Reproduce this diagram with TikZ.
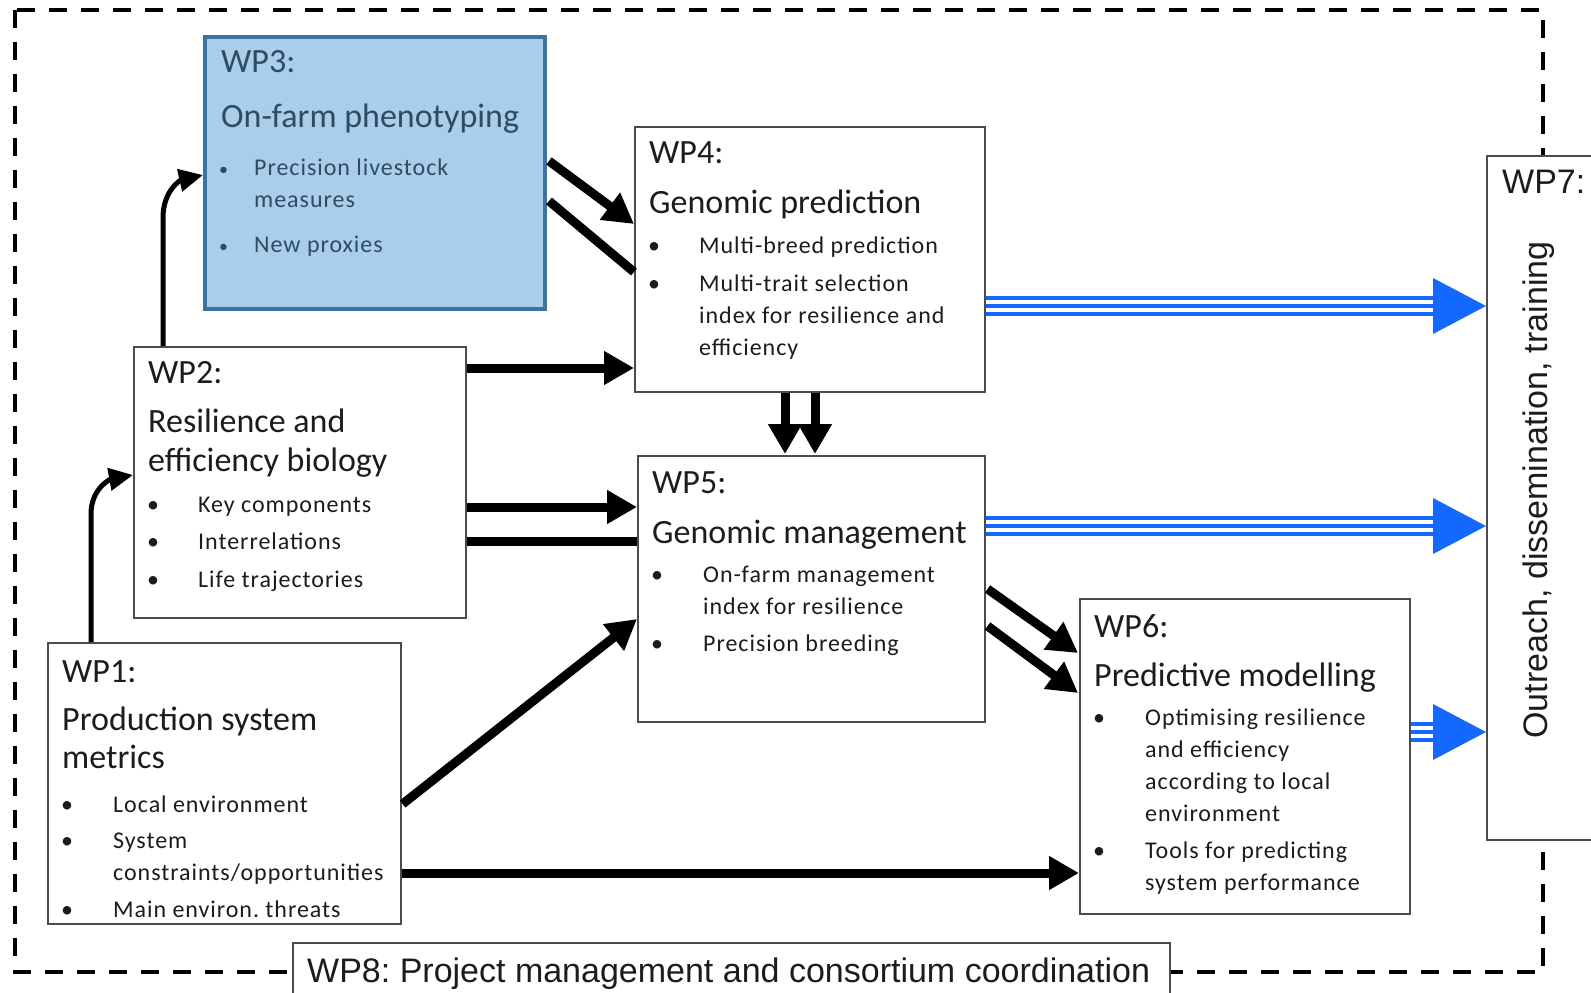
\documentclass[tikz,border=0pt]{standalone}
\usepackage{fontspec}
\setmainfont{Carlito}
\newfontfamily\arialfont{Liberation Sans}
\newfontfamily\itemfont[LetterSpace=4]{Carlito}
\usetikzlibrary{arrows.meta,calc}
\frenchspacing

\definecolor{boxline}{RGB}{75,75,75}
\definecolor{txt}{RGB}{28,28,28}
\definecolor{wpblue}{RGB}{169,206,236}
\definecolor{wpblueline}{RGB}{62,114,158}
\definecolor{wpbluetxt}{RGB}{48,74,98}
\definecolor{flow}{RGB}{18,104,255}

% heading line: #1 = distance from previous baseline, #2 = text
\newcommand\wphead[2]{{\fontsize{34}{#1}\selectfont #2\par}}
% bullet marker (redefined locally where needed)
\newcommand\wpbullet{\hspace{-1pt}\textbullet}
% bullet item: #1 = extra space before, #2 = text indent, #3 = text
\newcommand\wpitem[3]{\vspace{#1}{\itemfont\fontsize{24}{32}\selectfont
  \hangindent=#2\hangafter=1\noindent\makebox[#2][l]{\wpbullet}#3\par}}
\newcommand\wplines[1]{\vtop{\hsize=420pt\parindent=0pt\parskip=0pt
  \lineskiplimit=-100pt\lineskip=0pt #1}}

\begin{document}
\begin{tikzpicture}[x=1pt,y=-1pt,
  wpbox/.style={draw=boxline, line width=1.6pt, fill=white, inner sep=0pt, anchor=north west},
  flowarrow/.style={line width=9pt, -{Triangle[length=30pt,width=32pt]}},
  flowline/.style={line width=9pt},
  bendarrow/.style={line width=5pt, -{Triangle[length=24pt,width=22pt]}},
  frameline/.style={line width=4pt, dash pattern=on 18pt off 14pt},
  flowshaft/.style={draw=flow, line width=20pt,
    postaction={draw=white, line width=12pt},
    postaction={draw=flow, line width=4pt}},
  boxtext/.style={anchor=base west, inner sep=0pt, text=txt},
  armial/.style={inner sep=0pt, text=txt, font=\arialfont\fontsize{34}{34}\selectfont}]

\useasboundingbox (0,0) rectangle (1591,993);
\fill[white] (0,0) rectangle (1591,993);

% dashed project frame
\draw[frameline] (15,10) rectangle (1543,972);

% work-package boxes
\node[wpbox, draw=wpblueline, fill=wpblue, line width=4pt,
      minimum width=340pt, minimum height=272pt] (wp3) at (203,35) {};
\node[wpbox, minimum width=350pt, minimum height=265pt] (wp4) at (634,126) {};
\node[wpbox, minimum width=332pt, minimum height=271pt] (wp2) at (133,346) {};
\node[wpbox, minimum width=347pt, minimum height=266pt] (wp5) at (637,455) {};
\node[wpbox, minimum width=353pt, minimum height=281pt] (wp1) at (47,642) {};
\node[wpbox, minimum width=330pt, minimum height=315pt] (wp6) at (1079,598) {};
\node[wpbox, minimum width=220pt, minimum height=684pt] (wp7) at (1486,155) {};
\node[wpbox, minimum width=877pt, minimum height=90pt] (wp8) at (292,942) {};

% links between work packages
\draw[bendarrow] ($(wp1.north west)+(44,0)$) -- ++(0,-128)
  .. controls +(0,-26) and +(-22,4) .. ($(wp2.north west)+(0,129)$);
\draw[bendarrow] ($(wp2.north west)+(30,0)$) -- ++(0,-128)
  .. controls +(0,-28) and +(-22,5) .. ($(wp3.north west)+(0,140)$);

\draw[flowarrow] ($(wp3.north east)+(2,126)$) -- ($(wp4.north west)+(0,98)$);
\draw[flowline]  ($(wp3.north east)+(2,166)$) -- ($(wp4.north west)+(0,146)$);
\draw[flowarrow] ($(wp2.north east)+(0,22)$) -- ($(wp4.north west)+(0,242)$);

\draw[flowarrow] ($(wp4.south west)+(151,0)$) -- ($(wp5.north west)+(148,-1)$);
\draw[flowarrow] ($(wp4.south west)+(181,0)$) -- ($(wp5.north west)+(178,-1)$);

\draw[flowarrow] ($(wp2.north east)+(0,161)$) -- ($(wp5.north west)+(0,52)$);
\draw[flowline]  ($(wp2.north east)+(0,195)$) -- ($(wp5.north west)+(0,86)$);

\draw[flowarrow] ($(wp1.north east)+(1,162)$) -- ($(wp5.north west)+(0,164)$);
\draw[flowarrow] ($(wp1.north east)+(0,231)$) -- ($(wp6.north west)+(0,275)$);

\draw[flowarrow] ($(wp5.north east)+(2,134)$) -- ($(wp6.north west)+(-1,55)$);
\draw[flowarrow] ($(wp5.north east)+(2,171)$) -- ($(wp6.north west)+(-1,95)$);

% outputs into outreach
\draw[flowshaft] ($(wp4.north east)+(0,180)$) -- ($(wp7.north west)+(-48,151)$);
\fill[flow] ($(wp7.north west)+(0,151)$) -- ++(-53,-28) -- ++(0,56) -- cycle;
\draw[flowshaft] ($(wp5.north east)+(0,71)$) -- ($(wp7.north west)+(-48,371)$);
\fill[flow] ($(wp7.north west)+(0,371)$) -- ++(-53,-28) -- ++(0,56) -- cycle;
\draw[flowshaft] ($(wp6.north east)+(0,134)$) -- ($(wp7.north west)+(-48,577)$);
\fill[flow] ($(wp7.north west)+(0,577)$) -- ++(-53,-28) -- ++(0,56) -- cycle;

% box contents
\node[boxtext, text=wpbluetxt] (wp3text) at (221,72) {\wplines{%
  \renewcommand\wpbullet{\hspace{-2pt}{\fontsize{18}{18}\selectfont\textbullet}}%
  \wphead{0pt}{WP3:}
  \wphead{55pt}{On-farm phenotyping}
  \wpitem{16pt}{33pt}{Precision livestock\hfil\break measures}
  \wpitem{13pt}{33pt}{New proxies}}};

\node[boxtext] (wp4text) at (649,163) {\wplines{%
  \wphead{0pt}{WP4:}
  \wphead{50pt}{Genomic prediction}
  \wpitem{8pt}{50pt}{Multi-breed prediction}
  \wpitem{6pt}{50pt}{Multi-trait selection\hfil\break index for resilience and\hfil\break efficiency}}};

\node[boxtext] (wp2text) at (148,383) {\wplines{%
  \wphead{0pt}{WP2:}
  \wphead{49pt}{Resilience and}
  \wphead{39pt}{efficiency biology}
  \wpitem{9pt}{50pt}{Key components}
  \wpitem{5pt}{50pt}{Interrelations}
  \wpitem{6pt}{50pt}{Life trajectories}}};

\node[boxtext] (wp5text) at (652,493) {\wplines{%
  \wphead{0pt}{WP5:}
  \wphead{50pt}{Genomic management}
  \wpitem{7pt}{51pt}{On-farm management\hfil\break index for resilience}
  \wpitem{5pt}{51pt}{Precision breeding}}};

\node[boxtext] (wp1text) at (62,682) {\wplines{%
  \wphead{0pt}{WP1:}
  \wphead{48pt}{Production system}
  \wphead{38pt}{metrics}
  \wpitem{12pt}{51pt}{Local environment}
  \wpitem{4pt}{51pt}{System\hfil\break constraints/opportunities}
  \wpitem{5pt}{51pt}{Main environ. threats}}};

\node[boxtext] (wp6text) at (1094,637) {\wplines{%
  \wphead{0pt}{WP6:}
  \wphead{49pt}{Predictive modelling}
  \wpitem{7pt}{51pt}{Optimising resilience\hfil\break and efficiency\hfil\break according to local\hfil\break environment}
  \wpitem{5pt}{51pt}{Tools for predicting\hfil\break system performance}}};

\node[armial, anchor=base west] (wp7title) at (1502,193) {WP7:};
\node[armial, rotate=90] (wp7text) at (1539,490) {Outreach, dissemination, training};
\node[armial, anchor=base west] (wp8text) at (307,982) {WP8: Project management and consortium coordination};
\end{tikzpicture}
\end{document}
